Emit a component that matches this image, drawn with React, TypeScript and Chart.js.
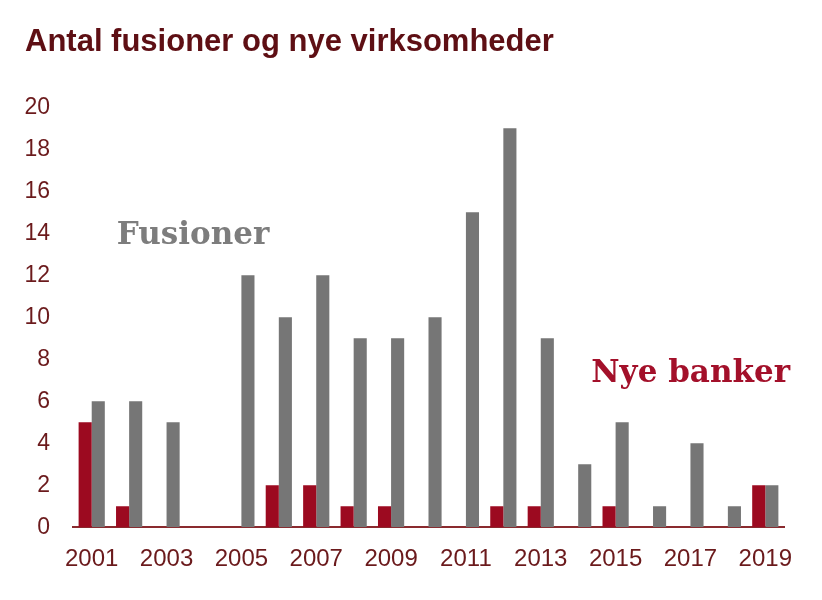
import { useEffect, useRef } from 'react';
import { Chart, ChartConfiguration, registerables, Plugin } from 'chart.js';

Chart.register(...registerables);

const years = [
  '2001', '2002', '2003', '2004', '2005', '2006', '2007', '2008', '2009', '2010',
  '2011', '2012', '2013', '2014', '2015', '2016', '2017', '2018', '2019',
];
const nyeBanker = [5, 1, 0, 0, 0, 2, 2, 1, 1, 0, 0, 1, 1, 0, 1, 0, 0, 0, 2];
const fusioner = [6, 6, 5, 0, 12, 10, 12, 9, 9, 10, 15, 19, 9, 3, 5, 1, 4, 1, 2];
const yTicks = [0, 2, 4, 6, 8, 10, 12, 14, 16, 18, 20];

const RED = '#9c0a20';
const GREY = '#767676';
const AXIS_TEXT = '#6b1a1c';

// series labels placed in data units (category index, value)
const seriesLabels = [
  { text: 'Fusioner', x: 0.67, y: 13.5, color: '#7d7d7d' },
  { text: 'Nye banker', x: 13.35, y: 6.9, color: '#a3102a' },
];

const labelPlugin: Plugin = {
  id: 'seriesLabels',
  afterDatasetsDraw(chart) {
    const { ctx, scales } = chart;
    ctx.save();
    ctx.font = 'bold 31px "DejaVu Serif"';
    ctx.textAlign = 'left';
    ctx.textBaseline = 'alphabetic';
    seriesLabels.forEach(l => {
      ctx.fillStyle = l.color;
      ctx.fillText(l.text, scales.x.getPixelForValue(l.x), scales.y.getPixelForValue(l.y));
    });
    ctx.restore();
  },
};

export default function App() {
  const chartRef = useRef<HTMLCanvasElement>(null);
  const chartInstance = useRef<Chart | null>(null);

  useEffect(() => {
    if (!chartRef.current) return;
    if (chartInstance.current) chartInstance.current.destroy();

    const config: ChartConfiguration = {
      type: 'bar',
      data: {
        labels: years,
        datasets: [
          { label: 'Nye banker', data: nyeBanker, backgroundColor: RED, categoryPercentage: 0.7, barPercentage: 1 },
          { label: 'Fusioner', data: fusioner, backgroundColor: GREY, categoryPercentage: 0.7, barPercentage: 1 },
        ],
      },
      options: {
        animation: false,
        responsive: true,
        maintainAspectRatio: false,
        layout: { padding: { left: 25, right: 38, top: 0, bottom: 16 } },
        plugins: {
          legend: { display: false },
          tooltip: { enabled: false },
          title: {
            display: true,
            text: 'Antal fusioner og nye virksomheder',
            align: 'start',
            color: '#5e0f14',
            font: { family: '"Liberation Sans", Arial, sans-serif', size: 31, weight: 'bold' },
            padding: { top: 24, bottom: 46 },
          },
        },
        scales: {
          x: {
            grid: { display: false },
            border: { display: true, color: '#8a2a2e', width: 2 },
            ticks: {
              autoSkip: false,
              maxRotation: 0,
              padding: 10,
              color: AXIS_TEXT,
              font: { family: '"Liberation Sans", Arial, sans-serif', size: 24 },
              callback: (_v, i) => (i % 2 === 0 ? years[i] : ''),
            },
          },
          y: {
            min: 0,
            max: 20,
            afterBuildTicks: scale => {
              scale.ticks = yTicks.map(v => ({ value: v }));
            },
            afterFit: scale => {
              scale.width = 48;
            },
            grid: { display: false, drawTicks: false },
            border: { display: false },
            ticks: {
              padding: 23,
              color: AXIS_TEXT,
              font: { family: '"Liberation Sans", Arial, sans-serif', size: 23 },
            },
          },
        },
      },
      plugins: [labelPlugin],
    };

    chartInstance.current = new Chart(chartRef.current, config);

    return () => {
      if (chartInstance.current) chartInstance.current.destroy();
    };
  }, []);

  return (
    <div style={{ position: 'fixed', left: 0, top: 0, width: 822, height: 600, background: '#fff' }}>
      <canvas ref={chartRef} />
    </div>
  );
}
